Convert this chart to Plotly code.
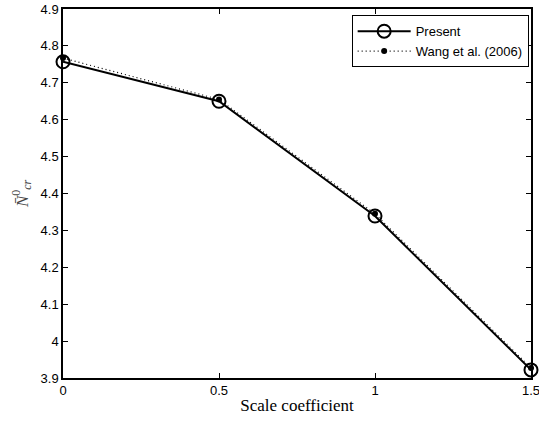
import plotly.graph_objects as go

scale = [0, 0.5, 1, 1.5]
present = [4.757, 4.650, 4.339, 3.922]
wang = [4.767, 4.655, 4.345, 3.927]
xticks = [0, 0.5, 1, 1.5]
xticklabels = ["0", "0.5", "1", "1.5"]
yticks = [3.9, 4.0, 4.1, 4.2, 4.3, 4.4, 4.5, 4.6, 4.7, 4.8, 4.9]
yticklabels = ["3.9", "4", "4.1", "4.2", "4.3", "4.4", "4.5", "4.6", "4.7", "4.8", "4.9"]

fig = go.Figure()
fig.add_trace(go.Scatter(
    x=scale, y=present, name="Present", mode="lines+markers",
    line=dict(color="black", width=2),
    marker=dict(symbol="circle-open", size=13, color="black", line=dict(width=2, color="black")),
    cliponaxis=False,
))
fig.add_trace(go.Scatter(
    x=scale, y=wang, name="Wang et al. (2006)", mode="lines+markers",
    line=dict(color="black", width=1.2, dash="1px,3px"),
    marker=dict(symbol="circle", size=6, color="black"),
    cliponaxis=False,
))

axis_common = dict(
    showline=True, linecolor="black", linewidth=1.5, mirror="ticks",
    ticks="inside", ticklen=5, tickcolor="black", showgrid=False, zeroline=False,
    automargin=False, ticklabeloverflow="allow",
    tickfont=dict(family="Liberation Sans, Arial", size=13, color="black"),
)
fig.update_xaxes(range=[0, 1.5], tickvals=xticks, ticktext=xticklabels,
                 title=dict(text="Scale coefficient", standoff=2,
                            font=dict(family="Liberation Serif, Times New Roman", size=17, color="black")),
                 **axis_common)
fig.update_yaxes(range=[3.9, 4.9], tickvals=yticks, ticktext=yticklabels,
                 title=dict(text="<i>N̄</i><sup>0</sup><sub><i>cr</i></sub>", standoff=8,
                            font=dict(family="Liberation Serif, Times New Roman", size=17, color="#444")),
                 **axis_common)

fig.update_layout(
    width=539, height=421,
    margin=dict(l=63, r=8, t=9, b=43, autoexpand=False),
    plot_bgcolor="white", paper_bgcolor="white",
    legend=dict(x=0.995, xanchor="right", y=0.983, yanchor="top",
                bgcolor="white", bordercolor="black", borderwidth=1,
                font=dict(family="Liberation Sans, Arial", size=13, color="black"),
                tracegroupgap=0, itemwidth=53),
    showlegend=True,
)

fig.write_html("out.html", config={"displayModeBar": False},
               post_script="document.body.style.margin='0';document.body.style.overflow='hidden';")
